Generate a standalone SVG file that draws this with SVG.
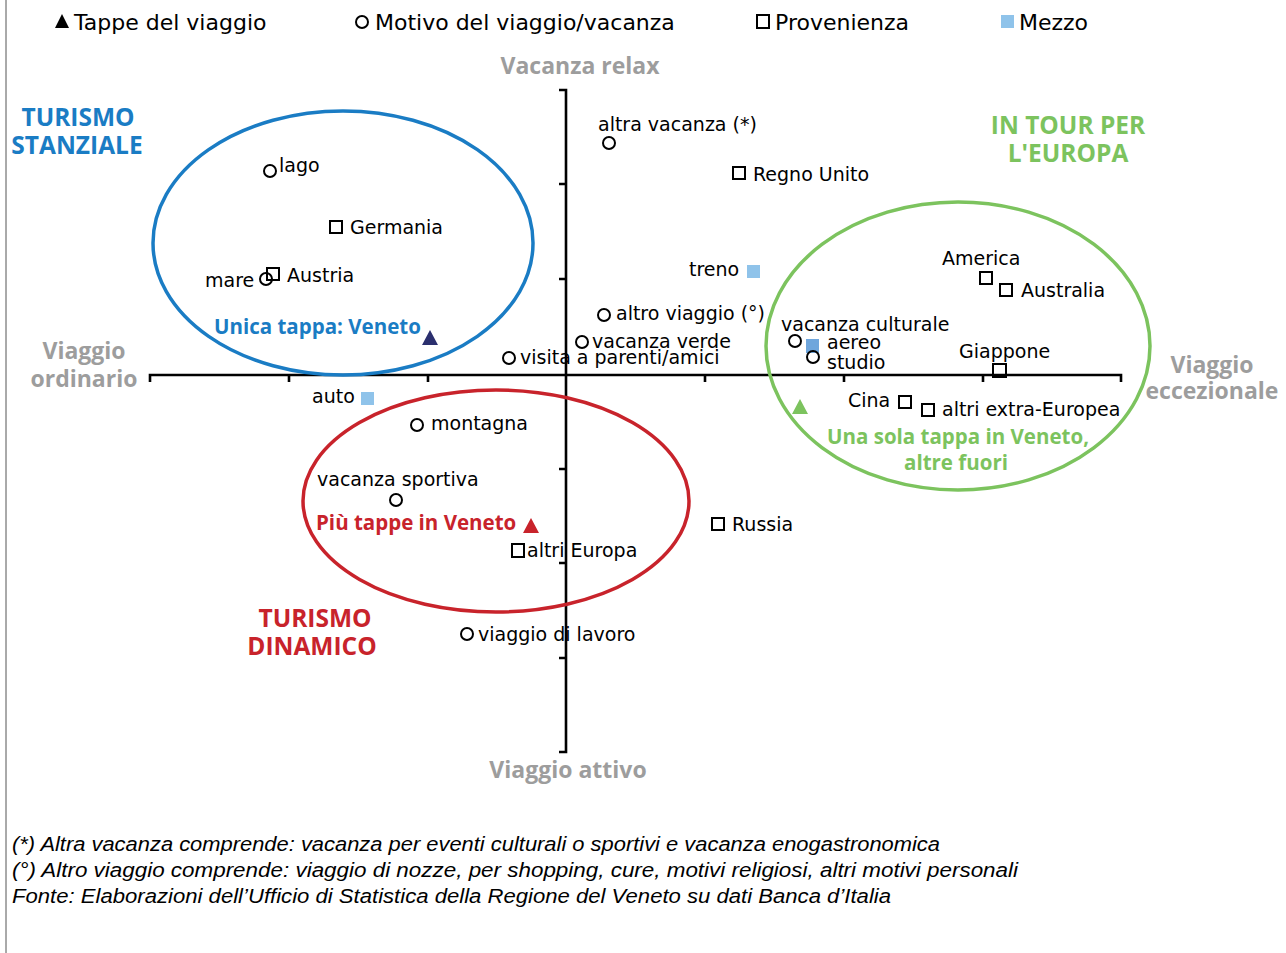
<svg xmlns="http://www.w3.org/2000/svg" width="1286" height="953" viewBox="0 0 1286 953">
<defs>
<style>
.lbl{font-family:"DejaVu Sans",sans-serif;font-size:19px;fill:#000}
.leg{font-family:"DejaVu Sans",sans-serif;font-size:22px;fill:#000}
.ax{font-family:"Open Sans",sans-serif;font-weight:bold;font-size:23px;fill:#9d9d9d}
.cl{font-family:"Open Sans",sans-serif;font-weight:bold;font-size:24.5px}
.tp{font-family:"Open Sans",sans-serif;font-weight:bold;font-size:20.5px}
.fn{font-family:"Liberation Sans",sans-serif;font-style:italic;font-size:19.5px;fill:#000}
.circ{fill:none;stroke:#000;stroke-width:2}
.sq{fill:none;stroke:#000;stroke-width:2}
.mz{fill:#8fc3ea}
.axis{fill:none;stroke:#000;stroke-width:2.6}
.blue{fill:#1a7cc4}.red{fill:#c8232b}.green{fill:#7cc35e}
</style>
</defs>
<rect width="1286" height="953" fill="#fff"/>
<line x1="6" y1="0" x2="6" y2="953" stroke="#555" stroke-width="1"/>

<g id="legend">
<polygon points="55,28 62,14 69,28" fill="#000"/>
<text class="leg" x="74" y="30">Tappe del viaggio</text>
<circle class="circ" cx="362" cy="22" r="6"/>
<text class="leg" x="375" y="30">Motivo del viaggio/vacanza</text>
<rect class="sq" x="757" y="15" width="12" height="13"/>
<text class="leg" x="775" y="30">Provenienza</text>
<rect class="mz" x="1001" y="15" width="13" height="13"/>
<text class="leg" x="1019" y="30">Mezzo</text>
</g>

<g id="axes">
<path class="axis" d="M150,382 V375 H1121 V382 M289,375 V382 M428,375 V382 M705,375 V382 M844,375 V382 M983,375 V382"/>
<path class="axis" d="M559,90 H566 V752 H559 M559,184 H566 M559,279 H566 M559,469 H566 M559,563 H566 M559,658 H566"/>
<text class="ax" x="580" y="74" text-anchor="middle">Vacanza relax</text>
<text class="ax" x="568" y="778" text-anchor="middle">Viaggio attivo</text>
<text class="ax" x="84" y="359" text-anchor="middle">Viaggio</text>
<text class="ax" x="84" y="387" text-anchor="middle">ordinario</text>
<text class="ax" x="1212" y="373" text-anchor="middle">Viaggio</text>
<text class="ax" x="1212" y="399" text-anchor="middle">eccezionale</text>
</g>

<g id="clusters">
<g id="stanziale">
<ellipse cx="343" cy="243" rx="190" ry="132" fill="none" stroke="#1a7cc4" stroke-width="3.5"/>
<text class="cl blue" x="78" y="126" text-anchor="middle">TURISMO</text>
<text class="cl blue" x="77" y="154" text-anchor="middle">STANZIALE</text>
<text class="tp blue" x="214" y="334">Unica tappa: Veneto</text>
<polygon points="422,345 430,330 438,345" fill="#2b2f6e"/>
</g>
<g id="tour">
<ellipse cx="958" cy="346" rx="192" ry="144" fill="none" stroke="#7cc35e" stroke-width="3.5"/>
<text class="cl green" x="1068" y="134" text-anchor="middle">IN TOUR PER</text>
<text class="cl green" x="1068" y="162" text-anchor="middle">L'EUROPA</text>
<text class="tp green" x="958" y="444" text-anchor="middle">Una sola tappa in Veneto,</text>
<text class="tp green" x="956" y="470" text-anchor="middle">altre fuori</text>
<polygon points="792,414 800,399 808,414" fill="#7cc35e"/>
</g>
<g id="dinamico">
<ellipse cx="496" cy="501" rx="193" ry="111" fill="none" stroke="#c8232b" stroke-width="3.5"/>
<text class="cl red" x="315" y="627" text-anchor="middle">TURISMO</text>
<text class="cl red" x="312" y="655" text-anchor="middle">DINAMICO</text>
<text class="tp red" x="316" y="530">Più tappe in Veneto</text>
<polygon points="523,533 531,518 539,533" fill="#c8232b"/>
</g>
</g>

<g id="points">
<g id="altra-vacanza"><text class="lbl" x="598" y="131">altra vacanza (*)</text><circle class="circ" cx="609" cy="143" r="6"/></g>
<g id="regno-unito"><rect class="sq" x="733" y="167" width="12" height="12"/><text class="lbl" x="753" y="181">Regno Unito</text></g>
<g id="lago"><circle class="circ" cx="270" cy="171" r="6"/><text class="lbl" x="279" y="172">lago</text></g>
<g id="germania"><rect class="sq" x="330" y="221" width="12" height="12"/><text class="lbl" x="350" y="234">Germania</text></g>
<g id="mare"><text class="lbl" x="205" y="287">mare</text><circle class="circ" cx="266" cy="279" r="6"/></g>
<g id="austria"><rect class="sq" x="267" y="268" width="12" height="12"/><text class="lbl" x="287" y="282">Austria</text></g>
<g id="treno"><text class="lbl" x="689" y="276">treno</text><rect class="mz" x="747" y="265" width="13" height="13"/></g>
<g id="altro-viaggio"><circle class="circ" cx="604" cy="315" r="6"/><text class="lbl" x="616" y="320">altro viaggio (°)</text></g>
<g id="vacanza-verde"><circle class="circ" cx="582" cy="342" r="6"/><text class="lbl" x="592" y="348">vacanza verde</text></g>
<g id="visita"><circle class="circ" cx="509" cy="358" r="6"/><text class="lbl" x="520" y="364">visita a parenti/amici</text></g>
<g id="vacanza-culturale"><text class="lbl" x="781" y="331">vacanza culturale</text><circle class="circ" cx="795" cy="341" r="6"/></g>
<g id="aereo"><rect x="806" y="339" width="13" height="14" fill="#6fa6dc"/><text class="lbl" x="827" y="349">aereo</text></g>
<g id="studio"><circle class="circ" cx="813" cy="357" r="6"/><text class="lbl" x="827" y="369">studio</text></g>
<g id="america"><text class="lbl" x="942" y="265">America</text><rect class="sq" x="980" y="272" width="12" height="12"/></g>
<g id="australia"><rect class="sq" x="1000" y="284" width="12" height="12"/><text class="lbl" x="1021" y="297">Australia</text></g>
<g id="giappone"><text class="lbl" x="959" y="358">Giappone</text><rect class="sq" x="993" y="364" width="13" height="13"/></g>
<g id="cina"><text class="lbl" x="848" y="407">Cina</text><rect class="sq" x="899" y="396" width="12" height="12"/></g>
<g id="extra-europea"><rect class="sq" x="922" y="404" width="12" height="12"/><text class="lbl" x="942" y="416">altri extra-Europea</text></g>
<g id="auto"><text class="lbl" x="312" y="403">auto</text><rect class="mz" x="361" y="392" width="13" height="13"/></g>
<g id="montagna"><circle class="circ" cx="417" cy="425" r="6"/><text class="lbl" x="431" y="430">montagna</text></g>
<g id="vacanza-sportiva"><text class="lbl" x="317" y="486">vacanza sportiva</text><circle class="circ" cx="396" cy="500" r="6"/></g>
<g id="russia"><rect class="sq" x="712" y="518" width="12" height="12"/><text class="lbl" x="732" y="531">Russia</text></g>
<g id="altri-europa"><rect class="sq" x="512" y="544" width="12" height="13"/><text class="lbl" x="527" y="557">altri Europa</text></g>
<g id="lavoro"><circle class="circ" cx="467" cy="634" r="6"/><text class="lbl" x="478" y="641">viaggio di lavoro</text></g>
</g>

<g id="footnotes">
<text class="fn" x="12" y="851" textLength="928" lengthAdjust="spacingAndGlyphs">(*) Altra vacanza comprende: vacanza per eventi culturali o sportivi e vacanza enogastronomica</text>
<text class="fn" x="12" y="877" textLength="1006" lengthAdjust="spacingAndGlyphs">(°) Altro viaggio comprende: viaggio di nozze, per shopping, cure, motivi religiosi, altri motivi personali</text>
<text class="fn" x="12" y="903" textLength="879" lengthAdjust="spacingAndGlyphs">Fonte: Elaborazioni dell’Ufficio di Statistica della Regione del Veneto su dati Banca d’Italia</text>
</g>
</svg>
